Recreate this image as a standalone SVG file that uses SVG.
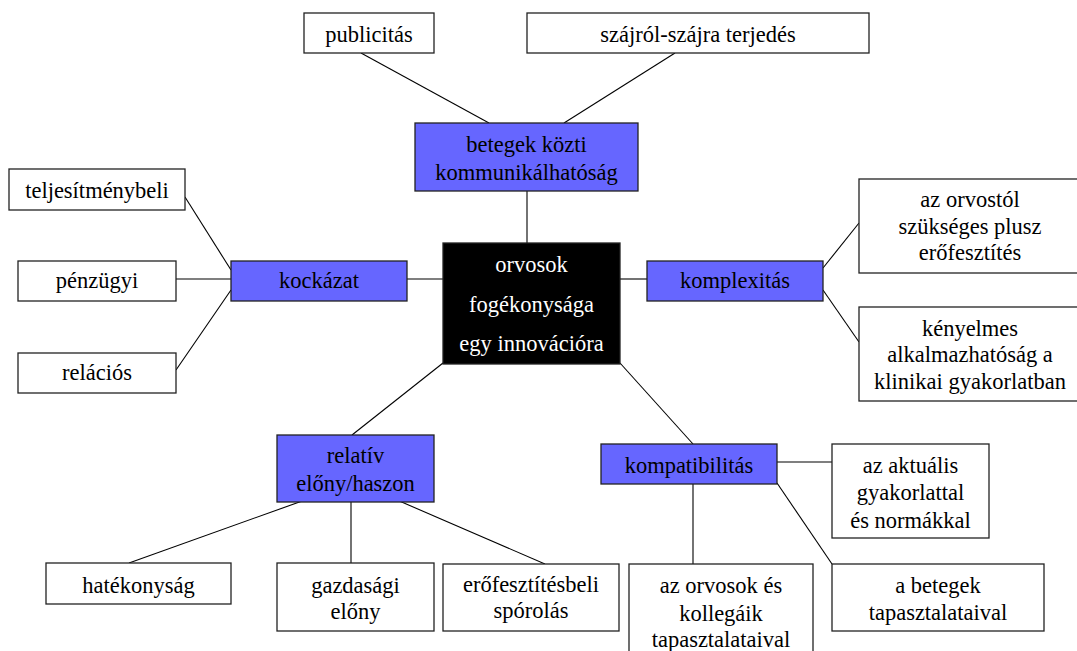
<svg xmlns="http://www.w3.org/2000/svg" width="1077" height="651" viewBox="0 0 1077 651">
<style>
.bg{fill:#ffffff}
.box{fill:#ffffff;stroke:#222222;stroke-width:1.3}
.blue{fill:#6666ff;stroke:#222222;stroke-width:1.3}
.core{fill:#000000;stroke:#222222;stroke-width:1.3}
.conn line{stroke:#000000;stroke-width:1.1}
text{font-family:'Liberation Serif','Times New Roman',serif;font-size:22.5px;fill:#000000;text-anchor:middle}
.w{fill:#ffffff}
</style>
<rect class="bg" x="0" y="0" width="1077" height="651"/>
<g id="connectors" class="conn">
<line x1="361" y1="53" x2="489" y2="123"/>
<line x1="675" y1="53" x2="564" y2="123"/>
<line x1="527" y1="191" x2="527" y2="243"/>
<line x1="407" y1="279" x2="443" y2="279"/>
<line x1="185" y1="197" x2="231" y2="270"/>
<line x1="176" y1="279" x2="231" y2="279"/>
<line x1="176" y1="370" x2="231" y2="290"/>
<line x1="620" y1="279" x2="647" y2="279"/>
<line x1="823" y1="268" x2="859" y2="223"/>
<line x1="823" y1="290" x2="859" y2="342"/>
<line x1="443" y1="363" x2="352" y2="435"/>
<line x1="305" y1="500" x2="129" y2="563"/>
<line x1="351" y1="502" x2="351" y2="563"/>
<line x1="397" y1="500" x2="545" y2="564"/>
<line x1="620" y1="363" x2="693" y2="444"/>
<line x1="777" y1="462" x2="832" y2="462"/>
<line x1="777" y1="483" x2="832" y2="564"/>
<line x1="693" y1="484" x2="693" y2="564"/>
</g>
<g id="n-publicitas"><rect class="box" x="304" y="13" width="130" height="40"/><text x="369" y="42">publicitás</text></g>
<g id="n-szajrol"><rect class="box" x="527" y="13" width="342" height="40"/><text x="698" y="42">szájról-szájra terjedés</text></g>
<g id="n-betegek"><rect class="blue" x="415" y="123" width="223" height="68"/><text x="526.5" y="152">betegek közti</text><text x="526.5" y="180">kommunikálhatóság</text></g>
<g id="n-center"><rect class="core" x="443" y="243" width="177" height="121"/><text class="w" x="531.5" y="272">orvosok</text><text class="w" x="531.5" y="312">fogékonysága</text><text class="w" x="531.5" y="351">egy innovációra</text></g>
<g id="n-kockazat"><rect class="blue" x="231" y="261" width="176" height="40"/><text x="319" y="288">kockázat</text></g>
<g id="n-teljesitmeny"><rect class="box" x="9" y="169" width="176" height="41"/><text x="97" y="198">teljesítménybeli</text></g>
<g id="n-penzugyi"><rect class="box" x="18" y="261" width="158" height="40"/><text x="97" y="288">pénzügyi</text></g>
<g id="n-relacios"><rect class="box" x="18" y="353" width="158" height="40"/><text x="97" y="380">relációs</text></g>
<g id="n-komplexitas"><rect class="blue" x="647" y="261" width="176" height="40"/><text x="735" y="288">komplexitás</text></g>
<g id="n-orvostol"><rect class="box" x="859" y="179" width="222" height="94"/><text x="970" y="207">az orvostól</text><text x="970" y="234">szükséges plusz</text><text x="970" y="260">erőfesztítés</text></g>
<g id="n-kenyelmes"><rect class="box" x="859" y="307" width="222" height="94"/><text x="970" y="336">kényelmes</text><text x="970" y="362">alkalmazhatóság a</text><text x="970" y="389">klinikai gyakorlatban</text></g>
<g id="n-relativ"><rect class="blue" x="277" y="435" width="157" height="67"/><text x="355.5" y="463">relatív</text><text x="355.5" y="491">előny/haszon</text></g>
<g id="n-hatekonysag"><rect class="box" x="46" y="563" width="185" height="41"/><text x="138.5" y="593">hatékonyság</text></g>
<g id="n-gazdasagi"><rect class="box" x="277" y="563" width="157" height="68"/><text x="355.5" y="593">gazdasági</text><text x="355.5" y="619">előny</text></g>
<g id="n-erofeszitesbeli"><rect class="box" x="443" y="564" width="176" height="67"/><text x="531" y="592">erőfesztítésbeli</text><text x="531" y="618">spórolás</text></g>
<g id="n-kompatibilitas"><rect class="blue" x="601" y="444" width="176" height="40"/><text x="689" y="473">kompatibilitás</text></g>
<g id="n-aktualis"><rect class="box" x="832" y="444" width="157" height="94"/><text x="910.5" y="473">az aktuális</text><text x="910.5" y="500">gyakorlattal</text><text x="910.5" y="528">és normákkal</text></g>
<g id="n-orvosok-kollegaik"><rect class="box" x="629" y="564" width="184" height="96"/><text x="721" y="593">az orvosok és</text><text x="721" y="621">kollegáik</text><text x="721" y="647">tapasztalataival</text></g>
<g id="n-a-betegek"><rect class="box" x="832" y="564" width="212" height="67"/><text x="938" y="593">a betegek</text><text x="938" y="620">tapasztalataival</text></g>
</svg>
